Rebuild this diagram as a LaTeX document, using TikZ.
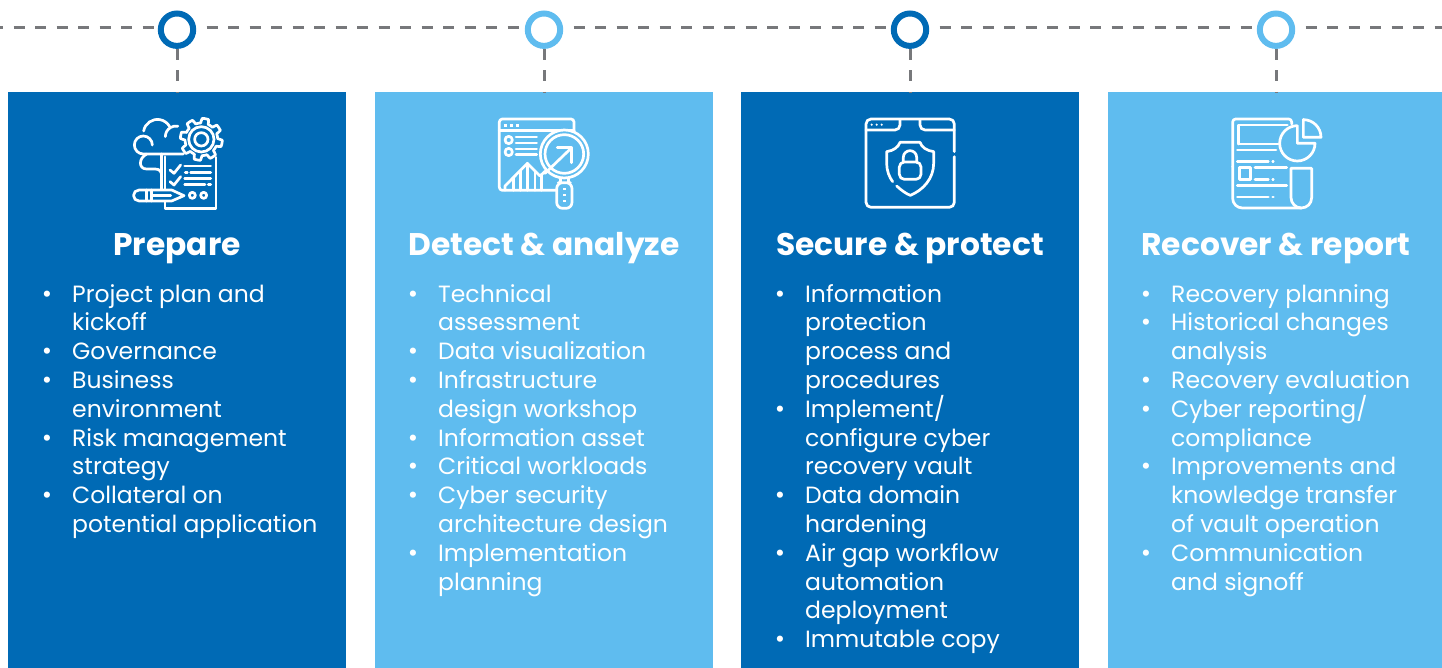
\documentclass[tikz,border=0pt]{standalone}
\usepackage{fontspec}
\setmainfont{Poppins}
\definecolor{cardDark}{HTML}{006AB5}
\definecolor{cardLight}{HTML}{5FBCEF}
\definecolor{tlGray}{HTML}{77787B}
\tikzset{
	card/.style={anchor=north west,minimum width=338pt,minimum height=576pt,inner sep=0pt,outer sep=0pt},
	tlring/.style={circle,draw=#1,line width=6pt,fill=white,minimum size=32.4pt,inner sep=0pt,outer sep=3pt},
	tline/.style={draw=tlGray,line width=3pt,dash pattern=on 11pt off 10.5pt},
	cardtitle/.style={anchor=base,text=white,font=\fontsize{31.3}{34}\selectfont\bfseries,inner sep=0pt},
	cardtext/.style={anchor=base west,text=white,font=\fontsize{23.5}{28}\selectfont,inner sep=0pt},
	cardbullet/.style={anchor=base,text=white,font=\fontsize{25}{28}\selectfont,inner sep=0pt},
	iconline/.style={draw=white,line width=2.7pt,line cap=round,line join=round},
}
\begin{document}
\begin{tikzpicture}[x=1pt,y=-1pt]
	\useasboundingbox (0,0) rectangle (1442,668);
	% cards
	\node [card,fill=cardDark] (card1) at (8,92) {};
	\node [card,fill=cardLight] (card2) at (375,92) {};
	\node [card,fill=cardDark] (card3) at (741,92) {};
	\node [card,fill=cardLight,minimum width=334pt] (card4) at (1108,92) {};
	% timeline
	\node [tlring=cardDark] (ring1) at (177,29.7) {};
	\node [tlring=cardLight] (ring2) at (544,29.7) {};
	\node [tlring=cardDark] (ring3) at (910,29.7) {};
	\node [tlring=cardLight] (ring4) at (1276,29.7) {};
	\coordinate (tlstart) at (0,28);
	\coordinate (tlend) at (1442,28);
	\draw [tline,dash phase=7.8pt] (tlstart) -- (tlstart -| ring1.west);
	\draw [tline,dash phase=11pt] (tlstart -| ring1.east) -- (tlstart -| ring2.west);
	\draw [tline,dash phase=11pt] (tlstart -| ring2.east) -- (tlstart -| ring3.west);
	\draw [tline,dash phase=11pt] (tlstart -| ring3.east) -- (tlstart -| ring4.west);
	\draw [tline,dash phase=11pt] (tlstart -| ring4.east) -- (tlend);
	\draw [tline] (ring1.south) -- (card1.north -| ring1);
	\draw [tline] (ring2.south) -- (card2.north -| ring2);
	\draw [tline] (ring3.south) -- (card3.north -| ring3);
	\draw [tline] (ring4.south) -- (card4.north -| ring4);
	% titles
	\node [cardtitle] (title1) at (177,256) {Prepare};
	\node [cardtitle] (title2) at (544,256) {Detect \& analyze};
	\node [cardtitle] (title3) at (910,256) {Secure \& protect};
	\node [cardtitle] (title4) at (1276,256) {Recover \& report};
	% card 1 text
	\foreach \row/\txt in {0/Project plan and,1/kickoff,2/Governance,3/Business,4/environment,5/Risk management,6/strategy,7/Collateral on,8/potential application}
		\node [cardtext] (textA\row) at (72,302+\row*28.8) {\txt};
	\foreach \row in {0,2,3,5,7}
		\node [cardbullet] (dotA\row) at (47,302+\row*28.8) {•};
	% card 2 text
	\foreach \row/\txt in {0/Technical,1/assessment,2/Data visualization,3/Infrastructure,4/design workshop,5/Information asset,6/Critical workloads,7/Cyber security,8/architecture design,9/Implementation,10/planning}
		\node [cardtext] (textB\row) at (438,302+\row*28.8) {\txt};
	\foreach \row in {0,2,3,5,6,7,9}
		\node [cardbullet] (dotB\row) at (413,302+\row*28.8) {•};
	% card 3 text
	\foreach \row/\txt in {0/Information,1/protection,2/process and,3/procedures,4/Implement\slash,5/configure cyber,6/recovery vault,7/Data domain,8/hardening,9/Air gap workflow,10/automation,11/deployment,12/Immutable copy}
		\node [cardtext] (textC\row) at (805,302+\row*28.8) {\txt};
	\foreach \row in {0,4,7,9,12}
		\node [cardbullet] (dotC\row) at (780,302+\row*28.8) {•};
	% card 4 text
	\foreach \row/\txt in {0/Recovery planning,1/Historical changes,2/analysis,3/Recovery evaluation,4/Cyber reporting\slash,5/compliance,6/Improvements and,7/knowledge transfer,8/of vault operation,9/Communication,10/and signoff}
		\node [cardtext] (textD\row) at (1171,302+\row*28.8) {\txt};
	\foreach \row in {0,1,3,4,6,9}
		\node [cardbullet] (dotD\row) at (1146,302+\row*28.8) {•};
	% icon 1
	\begin{scope}[shift={(100,0)},scale=1/3,iconline]
		\draw (250,462) -- (130,462) arc [start angle=90,end angle=360,radius=27];
		\draw (131,393) arc [start angle=190,end angle=330,radius=42];
		\draw (196,410) arc [start angle=180,end angle=280,radius=32];
		\draw (185,462) -- (185,570);
		\draw (140,462) .. controls (115,475) and (115,507) .. (140,507) -- (165,507) .. controls (180,507) and (185,515) .. (185,530);
		\draw [fill=cardDark,shift={(304,418)}] plot [domain=0:360,samples=145] (\x:{56+7*max(-1,min(1,3*sin(8*\x)))}) -- cycle;
		\draw (304,418) circle (38);
		\draw (304,418) circle (20);
		\draw (195,470) -- (195,625) -- (348,625) -- (348,472);
		\draw (210,510) -- (222,520) -- (242,495);
		\draw (210,545) -- (222,555) -- (242,530);
		\draw (254,498) -- (332,498);
		\draw (272,517) -- (332,517);
		\draw (256,517) -- (262,517);
		\draw (254,535) -- (332,535);
		\draw (254,553) -- (315,553);
		\draw (325,553) -- (332,553);
		\draw (277,586) circle (9);
		\draw (311,586) circle (9);
		\draw [fill=cardDark] (117,570) -- (215,570) -- (252,587) -- (215,603) -- (117,603) arc [start angle=90,end angle=270,radius=16.5] -- cycle;
		\draw (140,570) -- (140,603);
		\draw (155,570) -- (155,603);
		\draw (155,587) -- (212,587);
	\end{scope}
	% icon 2
	\begin{scope}[shift={(470,0)},scale=1/3,iconline]
		\draw [rounded corners=3pt] (312,395) -- (312,357) -- (88,357) -- (88,571) -- (258,571);
		\draw (88,392) -- (312,392);
		\foreach \dotx in {106,124,142}
			\fill [white] (\dotx-4,373) rectangle (\dotx+4,381);
		\draw (116,420) circle (11);
		\draw (116,456) circle (11);
		\foreach \liney in {411,429,447,464}
			\draw (138,\liney) -- (200,\liney);
		\draw (105,571) -- (105,558) -- (172,490) -- (210,528) -- (235,505);
		\draw (130,535) -- (130,571);
		\draw (152,512) -- (152,571);
		\draw (172,490) -- (172,571);
		\draw (195,513) -- (195,571);
		\draw (215,525) -- (215,571);
		\draw [fill=cardLight] (283,462) circle (72);
		\draw (283,462) circle (58);
		\draw (225,520) -- (305,443);
		\draw (262,443) -- (305,443) -- (305,488);
		\draw (272,535) -- (272,548);
		\draw (296,535) -- (296,548);
		\draw [rounded corners=6pt] (283,548) -- (306,548) -- (306,625) -- (260,625) -- (260,548) -- cycle;
		\foreach \doty in {567,585,603}
			\fill [white] (279,\doty-4) rectangle (287,\doty+4);
	\end{scope}
	% icon 3
	\begin{scope}[shift={(840,100)},scale=1/3,iconline]
		\draw [rounded corners=5pt] (343,170) -- (343,322) -- (78,322) -- (78,57) -- (343,57) -- (343,155);
		\draw (78,90) -- (165,90) arc [start angle=90,end angle=0,radius=15] -- (180,60);
		\draw (240,60) -- (240,75) arc [start angle=180,end angle=90,radius=15] -- (343,90);
		\foreach \dotx in {95,110,125}
			\fill [white] (\dotx,74) circle (3.5);
		\draw (170,258) .. controls (185,272) and (200,282) .. (211,286) .. controls (250,270) and (281,235) .. (281,190) -- (281,155) .. controls (260,152) and (245,142) .. (240,127) -- (180,127) .. controls (175,142) and (160,152) .. (140,155) -- (140,190) .. controls (140,212) and (148,232) .. (158,245);
		\draw [rounded corners=5pt] (178,186) rectangle (243,238);
		\draw (190,186) -- (190,172) arc [start angle=180,end angle=360,radius=20] -- (230,186);
	\end{scope}
	% icon 4
	\begin{scope}[shift={(1210,100)},scale=1/3,iconline]
		\draw [rounded corners=3pt] (245,72) -- (245,57) -- (68,57) -- (68,200);
		\draw (68,200) -- (68,295) arc [start angle=180,end angle=90,radius=29] -- (274,324);
		\draw (85,132) -- (85,75) -- (232,75);
		\draw (85,132) -- (205,132);
		\draw (82,150) -- (198,150);
		\draw (82,185) -- (175,185);
		\draw (188,185) -- (190,185);
		\draw (135,203) -- (230,203);
		\draw (88,203) rectangle (122,238);
		\draw (135,238) -- (175,238);
		\draw (188,238) -- (190,238);
		\draw (82,256) -- (230,256);
		\draw (82,291) -- (175,291);
		\draw (188,291) -- (190,291);
		\draw (243,205) -- (243,293) arc [start angle=180,end angle=0,radius=31] -- (305,205) -- cycle;
		\draw [fill=cardLight] (262,78) -- (262,130) -- (315,130) arc [start angle=0,end angle=270,radius=53];
		\draw (280,58) -- (280,112) -- (333,112) arc [start angle=0,end angle=-90,radius=53] -- cycle;
	\end{scope}
\end{tikzpicture}
\end{document}
